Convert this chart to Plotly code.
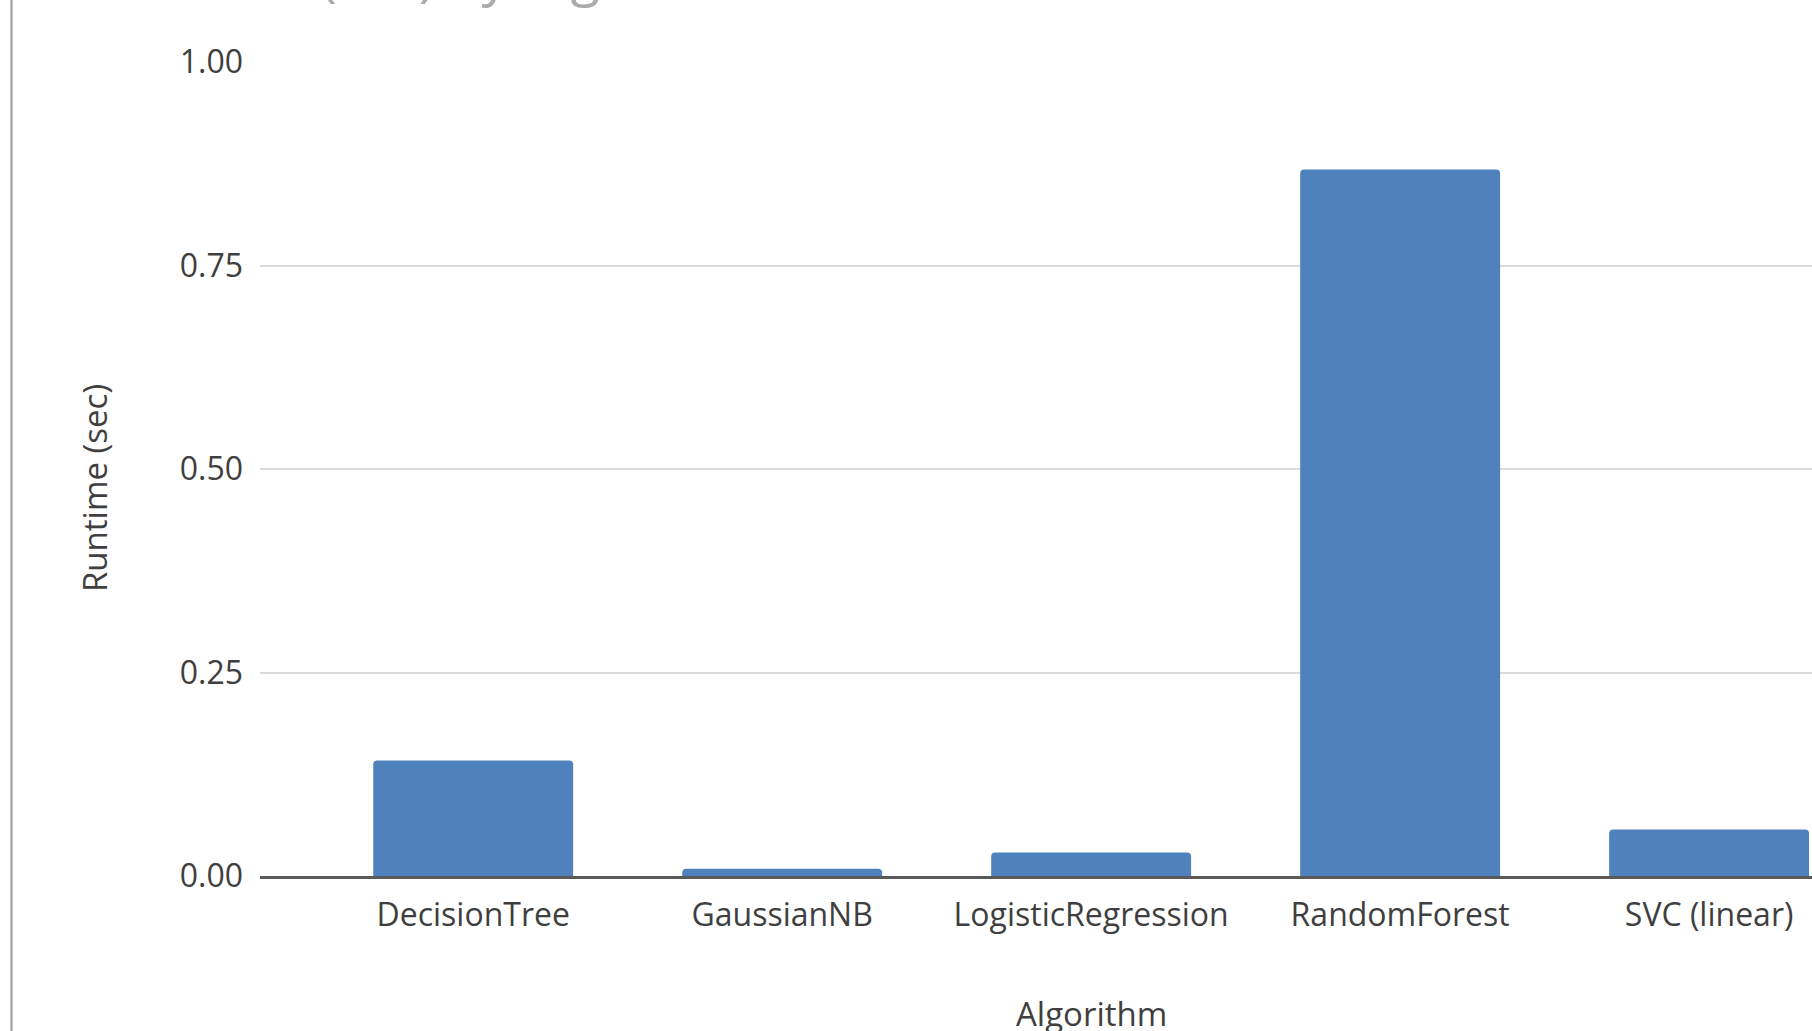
import plotly.graph_objects as go

# Runtime per classifier
algorithms = ["DecisionTree", "GaussianNB", "LogisticRegression", "RandomForest", "SVC (linear)"]
runtime_sec = [0.142, 0.009, 0.029, 0.868, 0.057]
y_ticks = [0.0, 0.25, 0.5, 0.75, 1.0]

FONT = "Open Sans"
TEXT = "#3f3f3f"
BAR = "rgb(79,129,189)"

W, H = 1812, 1031
M_LEFT, M_RIGHT, M_TOP, M_BOTTOM = 260, 0, 62, 155
plot_w = W - M_LEFT - M_RIGHT
plot_h = H - M_TOP - M_BOTTOM

fig = go.Figure(
    go.Bar(
        x=algorithms,
        y=runtime_sec,
        width=0.647,
        marker=dict(color=BAR, line=dict(width=0), cornerradius=4),
        hoverinfo="x+y",
    )
)

fig.update_layout(
    width=W,
    height=H,
    margin=dict(l=M_LEFT, r=M_RIGHT, t=M_TOP, b=M_BOTTOM, pad=0),
    paper_bgcolor="white",
    plot_bgcolor="white",
    showlegend=False,
    font=dict(family=FONT, size=32, color=TEXT),
    xaxis=dict(
        type="category",
        range=[-0.69, 4.333],
        showgrid=False,
        showline=True,
        linecolor="#5a5a5a",
        linewidth=2.5,
        ticks="",
        ticklabelstandoff=9,
        tickfont=dict(family=FONT, size=32, color=TEXT),
        fixedrange=True,
    ),
    yaxis=dict(
        range=[0, 1.0],
        tickvals=y_ticks,
        tickformat=".2f",
        showgrid=True,
        gridcolor="#d9d9d9",
        gridwidth=2,
        zeroline=False,
        showline=False,
        ticks="",
        ticklabelstandoff=16,
        tickfont=dict(family=FONT, size=32, color=TEXT),
        fixedrange=True,
    ),
)

# axis titles
fig.add_annotation(
    text="Algorithm",
    xref="x", yref="paper",
    x=2, y=-(1013 - (M_TOP + plot_h)) / plot_h,
    yanchor="middle", xanchor="center",
    showarrow=False,
    font=dict(family=FONT, size=33, color=TEXT),
)
fig.add_annotation(
    text="Runtime (sec)",
    xref="paper", yref="paper",
    x=(95 - M_LEFT) / plot_w, y=((M_TOP + plot_h) - 488) / plot_h,
    xanchor="center", yanchor="middle",
    textangle=-90,
    showarrow=False,
    font=dict(family=FONT, size=33, color=TEXT),
)

# chart title, running off the top edge
fig.add_annotation(
    text="Runtime (sec) by Algorithm",
    xref="paper", yref="paper",
    x=(92 - M_LEFT) / plot_w, y=((M_TOP + plot_h) - 13) / plot_h,
    xanchor="left", yanchor="bottom",
    showarrow=False,
    font=dict(family=FONT, size=54, color="#ababab"),
)

# chart frame edge on the left
fig.add_shape(
    type="line",
    xref="paper", yref="paper",
    x0=(11.5 - M_LEFT) / plot_w, x1=(11.5 - M_LEFT) / plot_w,
    y0=-1, y1=2,
    line=dict(color="#9a9a9a", width=2),
)

fig.write_html("out.html", config={"displayModeBar": False})
